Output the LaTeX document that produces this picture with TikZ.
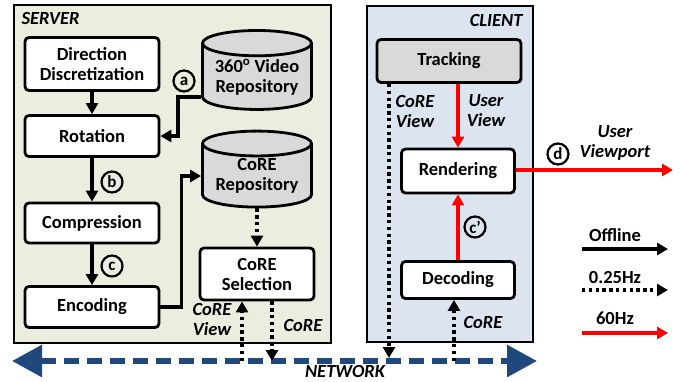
\documentclass[tikz,border=0pt]{standalone}
\usepackage{fontspec}
\setmainfont{Carlito}
\usetikzlibrary{arrows,arrows.meta,shapes.geometric}

\definecolor{srvbg}{RGB}{235,238,222}
\definecolor{clibg}{RGB}{220,228,240}
\definecolor{repogray}{RGB}{217,217,217}
\definecolor{netblue}{RGB}{31,73,125}

\begin{document}
\begin{tikzpicture}[line cap=butt,line join=miter,>={Triangle[length=11pt,width=12pt]},x=1pt,y=-1pt,
    txt/.style={font=\bfseries\fontsize{18.5}{20}\selectfont,align=center},
    lbl/.style={font=\bfseries\itshape\fontsize{18.5}{20}\selectfont,align=center},
    block/.style={txt,draw,rounded corners=4pt,line width=2.8pt,fill=white,inner sep=0pt},
    repo/.style={txt,cylinder,shape border rotate=90,aspect=0.3,draw,line width=2.8pt,
      fill=repogray,inner sep=0pt},
    tag/.style={circle,draw,line width=2.2pt,inner sep=0pt,minimum size=21pt,
      font=\bfseries\fontsize{17}{17}\selectfont},
    flow/.style={->,line width=3.4pt},
    slow/.style={->,line width=3.4pt,dash pattern=on 3.4pt off 3.4pt},
    fast/.style={->,line width=3.4pt,red}]
      \useasboundingbox (0,0) rectangle (681,381);

      % the two sides
      \draw[line width=2.6pt,fill=srvbg] (14,5) rectangle (331,343);
      \draw[line width=2.6pt,fill=clibg] (367,6) rectangle (533,342);
      \node[lbl,anchor=west] (srvname) at (18,19) {SERVER};
      \node[lbl,anchor=east] (cliname) at (526,20) {CLIENT};

      % server
      \node[block,minimum width=134pt,minimum height=53pt] (dir) at (92,64) {Direction\\Discretization};
      \node[block,minimum width=134pt,minimum height=41pt] (rot) at (92,136) {Rotation};
      \node[block,minimum width=134pt,minimum height=40pt] (comp) at (92,223) {Compression};
      \node[block,minimum width=134pt,minimum height=41pt] (enc) at (92,307) {Encoding};
      \node[repo,minimum width=109pt,minimum height=79pt] (vrepo) at (257,77) {360\textsuperscript{o} Video\\Repository};
      \node[repo,minimum width=109pt,minimum height=76pt] (crepo) at (257,176) {CoRE\\Repository};
      \node[block,minimum width=114pt,minimum height=52pt] (sel) at (257,274) {CoRE\\Selection};

      \node[tag] (ta) at (184,81) {a};
      \node[tag] (tb) at (112,182) {b};
      \node[tag] (tc) at (112,266) {c};

      \draw[flow] (dir) -- (rot);
      \draw[flow] (rot) -- (comp);
      \draw[flow] (comp) -- (enc);
      \draw[flow] ([yshift=-20pt]vrepo.west) -- ++(-23,0) |- (rot.east);
      \draw[flow] (enc.east) -- ++(21,0) |- (crepo.west);
      \draw[slow] (crepo.south) -- (sel.north);

      % client
      \node[block,fill=repogray,minimum width=144pt,minimum height=43pt] (track) at (449,61) {Tracking};
      \node[block,minimum width=113pt,minimum height=44pt] (rend) at (458,171) {Rendering};
      \node[block,minimum width=113pt,minimum height=37pt] (dec) at (458,280) {Decoding};

      \node[tag] (tcc) at (475,227) {c'};
      \node[tag] (td) at (558,154) {d};

      \draw[fast] (rend.north |- track.south) -- (rend.north);
      \draw[fast] (dec.north) -- (rend.south);
      \coordinate (vport) at (673,170);
      \draw[fast] (rend.east |- vport) -- (vport);

      \node[lbl] (uview) at (486,111) {User\\View};
      \node[lbl] (cview) at (415,111) {CoRE\\View};
      \node[lbl] (uvport) at (615,143) {User\\Viewport};

      % network
      \coordinate (netl) at (12,361);
      \coordinate (netr) at (537,361);
      \draw[netblue,line width=6pt,dash pattern=on 15pt off 8pt,
        {Triangle[length=30pt,width=31pt]}-{Triangle[length=30pt,width=31pt]}] (netl) -- (netr);
      \node[lbl,inner sep=0pt] (netname) at (345,371) {NETWORK};

      \coordinate (sview) at (242,361);
      \coordinate (score) at (272,361);
      \coordinate (cdown) at (389,358);
      \coordinate (cup) at (454,361);
      \draw[slow] (sview) -- (sview |- sel.south);
      \draw[slow] (score |- sel.south) -- (score);
      \draw[slow] (cdown |- track.south) -- (cdown);
      \draw[slow] (cup) -- (cup |- dec.south);
      \node[lbl] (sviewtxt) at (212,319) {CoRE\\View};
      \node[lbl] (scoretxt) at (303,325) {CoRE};
      \node[lbl] (ccoretxt) at (483,322) {CoRE};

      % legend
      \coordinate (la1) at (582,249); \coordinate (la2) at (668,249);
      \coordinate (lb1) at (582,290); \coordinate (lb2) at (668,290);
      \coordinate (lc1) at (582,333); \coordinate (lc2) at (668,333);
      \draw[flow] (la1) -- (la2);
      \draw[slow] (lb1) -- (lb2);
      \draw[fast] (lc1) -- (lc2);
      \node[txt] (offline) at (615,235) {Offline};
      \node[txt] (quarter) at (615,277) {0.25Hz};
      \node[txt] (sixty) at (615,318) {60Hz};
\end{tikzpicture}
\end{document}
